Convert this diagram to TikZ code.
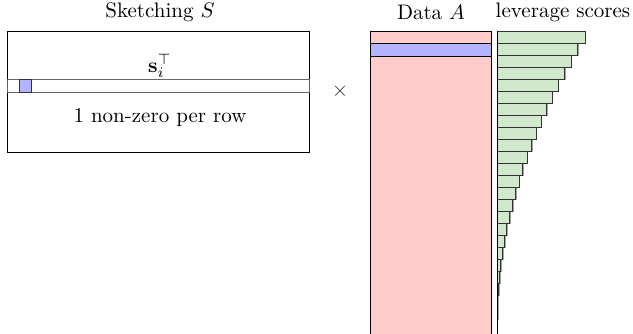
\documentclass[tikz,border=0pt]{standalone}
\usetikzlibrary{shadows}
\definecolor{datared}{RGB}{255,204,204}
\definecolor{rowblue}{RGB}{179,179,255}
\definecolor{levgreen}{RGB}{210,232,204}
\tikzset{
  levbar/.style={draw=black!80, fill=levgreen,
    drop shadow={shadow xshift=0.6pt, shadow yshift=-0.6pt, fill=black!60, opacity=0.6}},
}
\begin{document}
\begin{tikzpicture}[x=0.476pt,y=-0.476pt]
        \useasboundingbox (0,0) rectangle (633,333);
        % Sketching matrix with one row picked out
        \node (stitle) at (160,12) {Sketching $S$};
        \draw (7,31) rectangle (309,152);
        \draw[black!60] (7,79) rectangle (309,92);
        \draw[fill=rowblue, draw=black!80] (19,79) rectangle (31,92);
        \node (srow) at (160,66) {$\mathbf{s}_i^\top$};
        \node (snnz) at (160,118) {1 non-zero per row};
        \node[text=black!80] (times) at (340,91) {$\times$};
        % Data matrix
        \node (atitle) at (431,12) {Data $A$};
        \draw[fill=datared] (370,31) rectangle (491,340);
        \draw[fill=rowblue] (370,43) rectangle (491,56);
        % Leverage scores as bars
        \node (ltitle) at (563,12) {leverage scores};
        \foreach \k in {0,...,23}
            \draw[levbar] (497,31+12*\k) rectangle ({497+88*(1-\k/24)^2},43+12*\k);
        \draw (497,31) -- (497,340);
    \end{tikzpicture}
\end{document}
